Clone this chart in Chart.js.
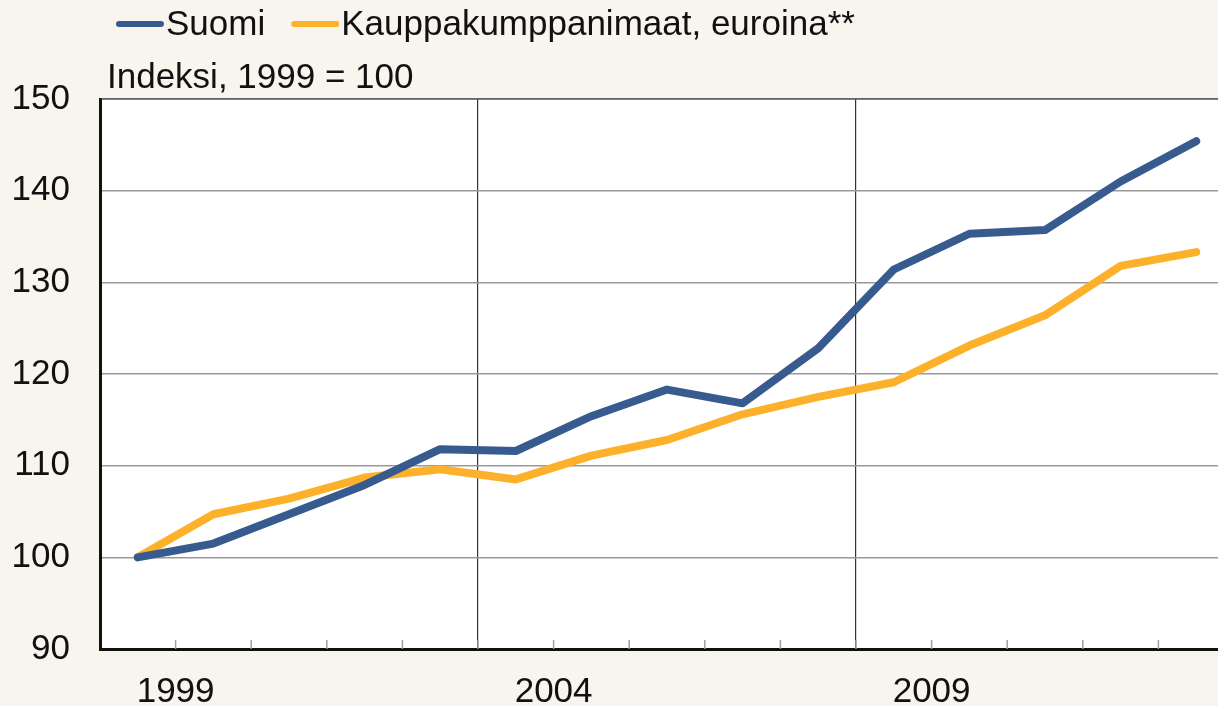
<!DOCTYPE html>
<html>
<head>
<meta charset="utf-8">
<script src="https://cdn.jsdelivr.net/npm/chart.js@4.4.1/dist/chart.umd.min.js"></script>
<style>
  html, body { margin: 0; padding: 0; background: #f8f4ee; overflow: hidden; }
  #wrap { width: 1240px; height: 706px; }
</style>
</head>
<body>
<div id="wrap"><canvas id="chart" width="1240" height="706"></canvas></div>
<script>
// categories, one point per year
const years = ['1999', '2000', '2001', '2002', '2003', '2004', '2005', '2006',
               '2007', '2008', '2009', '2010', '2011', '2012', '2013'];
// years that get a label on the x axis
const xTickLabels = ['1999', '2004', '2009'];

const suomi = [100, 101.5, 104.7, 107.9, 111.8, 111.6, 115.4, 118.3,
               116.8, 122.8, 131.4, 135.3, 135.7, 141.0, 145.4];
const kauppakumppanit = [100, 104.7, 106.4, 108.7, 109.6, 108.5, 111.1, 112.8,
                         115.6, 117.5, 119.1, 123.1, 126.4, 131.8, 133.3];

const yTicks = [90, 100, 110, 120, 130, 140, 150];
const unitText = 'Indeksi, 1999 = 100';

const FONT = '"Liberation Sans", Arial, sans-serif';
const BLUE = '#385b8f';
const ORANGE = '#fdb12b';

// white plot area + small inner tick marks on the x axis
const plotArea = {
  id: 'plotArea',
  beforeDraw(chart) {
    const { ctx, chartArea: a } = chart;
    ctx.save();
    ctx.fillStyle = '#ffffff';
    ctx.fillRect(a.left, a.top, a.right - a.left, a.bottom - a.top);
    ctx.restore();
  },
  beforeDatasetsDraw(chart) {
    const { ctx, chartArea: a } = chart;
    const w = (a.right - a.left) / years.length;
    ctx.save();
    ctx.strokeStyle = '#a0a0a0';
    ctx.lineWidth = 1.5;
    for (let i = 1; i < years.length; i++) {
      const px = a.left + i * w;
      ctx.beginPath();
      ctx.moveTo(px, a.bottom);
      ctx.lineTo(px, a.bottom - 9);
      ctx.stroke();
    }
    // dark top edge of the plot
    ctx.strokeStyle = '#333';
    ctx.lineWidth = 1.2;
    ctx.beginPath();
    ctx.moveTo(a.left, a.top);
    ctx.lineTo(a.right, a.top);
    ctx.stroke();
    ctx.restore();
  }
};

// legend row and unit text above the plot
const header = {
  id: 'header',
  afterDraw(chart) {
    const { ctx } = chart;
    ctx.save();
    ctx.font = '35px ' + FONT;
    ctx.fillStyle = '#111';
    ctx.textBaseline = 'middle';
    let x = 116;
    chart.data.datasets.forEach(ds => {
      ctx.strokeStyle = ds.borderColor;
      ctx.lineWidth = 6;
      ctx.lineCap = 'round';
      ctx.beginPath();
      ctx.moveTo(x + 3, 24);
      ctx.lineTo(x + 45, 24);
      ctx.stroke();
      ctx.fillText(ds.label, x + 50, 25);
      x += 50 + ctx.measureText(ds.label).width + 26;
    });
    ctx.fillText(unitText, 107, 78);
    ctx.restore();
  }
};

new Chart(document.getElementById('chart'), {
  type: 'line',
  data: {
    labels: years,
    datasets: [
      {
        label: 'Suomi',
        data: suomi,
        borderColor: BLUE,
        backgroundColor: BLUE,
        borderWidth: 8,
        borderCapStyle: 'round',
        borderJoinStyle: 'round',
        pointRadius: 0,
        tension: 0
      },
      {
        label: 'Kauppakumppanimaat, euroina**',
        data: kauppakumppanit,
        borderColor: ORANGE,
        backgroundColor: ORANGE,
        borderWidth: 8,
        borderCapStyle: 'round',
        borderJoinStyle: 'round',
        pointRadius: 0,
        tension: 0
      }
    ]
  },
  options: {
    responsive: false,
    animation: false,
    layout: { padding: { top: 99, right: 6, left: 0, bottom: 0 } },
    plugins: {
      legend: { display: false },
      title: { display: false },
      tooltip: { enabled: false }
    },
    scales: {
      x: {
        type: 'category',
        offset: true,
        afterFit(scale) { scale.height = 57; },
        grid: {
          offset: true,
          drawTicks: false,
          tickLength: 0,
          lineWidth: 1.2,
          color: ctx => (ctx.index === 5 || ctx.index === 10) ? '#333' : 'rgba(0,0,0,0)'
        },
        border: { display: true, color: '#111', width: 3 },
        ticks: {
          autoSkip: false,
          maxRotation: 0,
          padding: 22,
          labelOffset: 37.8,
          color: '#111',
          font: { family: FONT, size: 35 },
          callback: (v, i) => xTickLabels.includes(years[i]) ? years[i] : ''
        }
      },
      y: {
        min: 90,
        max: 150,
        afterFit(scale) { scale.width = 100; },
        afterBuildTicks(scale) { scale.ticks = yTicks.map(v => ({ value: v })); },
        grid: {
          drawTicks: false,
          tickLength: 0,
          lineWidth: 1.5,
          color: '#999'
        },
        border: { display: true, color: '#111', width: 3 },
        ticks: {
          padding: 30,
          color: '#111',
          font: { family: FONT, size: 35 }
        }
      }
    }
  },
  plugins: [plotArea, header]
});
</script>
</body>
</html>
